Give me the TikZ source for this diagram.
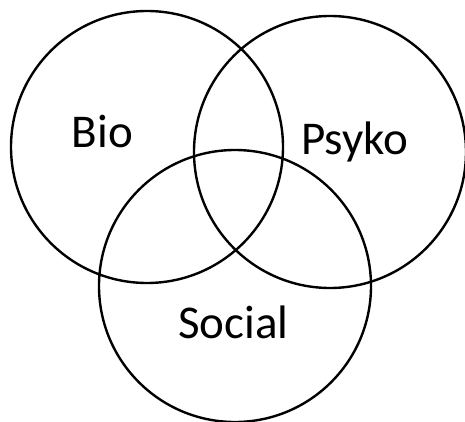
\documentclass[tikz,border=0pt]{standalone}
\usepackage{fontspec}
\setmainfont{Carlito}
\usepackage{tikz}

\begin{document}
\begin{tikzpicture}[x=1pt,y=-1pt]
            \tikzstyle{set}=[circle,draw=black,fill=none,line width=2.4pt,minimum size=272pt,inner sep=0pt]
            \tikzstyle{word}=[font=\fontsize{47}{47}\selectfont,anchor=base,inner sep=0pt]
            \useasboundingbox (0,0) rectangle (465,422);
            \foreach \name/\x/\y in {bio/147/147, psyko/330/152, social/235/286}
                    \node[set] (C-\name) at (\x,\y) {};
            \foreach \name/\x/\y/\txt in {bio/102.5/148/Bio, psyko/354.5/154/Psyko, social/233.5/338/Social}
                    \node[word] (T-\name) at (\x,\y) {\txt};
        \end{tikzpicture}
\end{document}
